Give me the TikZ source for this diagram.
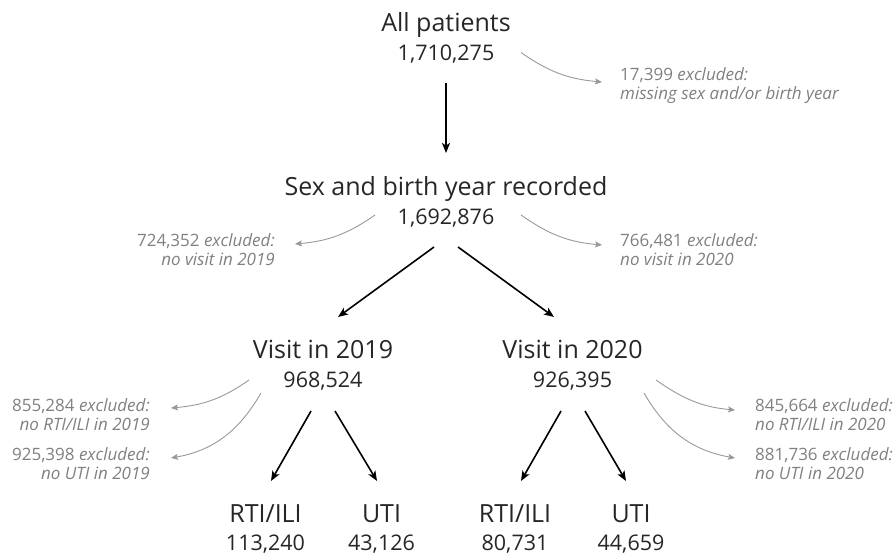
\documentclass[tikz,border=0pt]{standalone}
\usepackage{fontspec}
\setmainfont{Open Sans}
\usetikzlibrary{calc}
\usetikzlibrary{arrows.meta}

\tikzset{
  stage/.style={inner sep=0pt, text height=18pt, text depth=0pt, font=\fontsize{25}{30}\selectfont, text=black!85},
  tally/.style={inner sep=0pt, text height=15.4pt, text depth=0pt, font=\fontsize{21.5}{26}\selectfont, text=black!85},
  excl/.style={inner sep=0pt, font=\fontsize{17}{19}\selectfont, text=black!50},
  flow/.style={draw=black, line width=1.6pt, -{Stealth[length=10pt,width=8pt,inset=2.5pt]}},
  drop/.style={draw=black!40, line width=0.9pt, -{Stealth[length=7pt,width=6pt,inset=1.5pt]}},
}

\begin{document}
\begin{tikzpicture}[x=1pt,y=1pt]
\useasboundingbox (0,0) rectangle (896,-554);

% main stages
\node[stage](all) at (446,-22.5) {All patients};
\node[tally](allN) at (446,-52.5) {1,710,275};

\node[stage](sex) at (446,-186.5) {Sex and birth year recorded};
\node[tally](sexN) at (446,-216.5) {1,692,876};

\node[stage](v19) at (323,-349) {Visit in 2019};
\node[tally](v19N) at (323,-380) {968,524};
\node[stage](v20) at (572.5,-349) {Visit in 2020};
\node[tally](v20N) at (572.5,-380) {926,395};

% outcomes
\node[stage](rti19) at (265.5,-513) {RTI/ILI};
\node[tally](rti19N) at (265.5,-542.5) {113,240};
\node[stage](uti19) at (381.5,-513) {UTI};
\node[tally](uti19N) at (381.5,-542.5) {43,126};
\node[stage](rti20) at (515,-513) {RTI/ILI};
\node[tally](rti20N) at (515,-542.5) {80,731};
\node[stage](uti20) at (631,-513) {UTI};
\node[tally](uti20N) at (631,-542.5) {44,659};

% exclusions
\node[excl, anchor=west, align=left](exAll) at (620,-86) {17,399 \textit{excluded:}\\\textit{missing sex and/or birth year}};
\node[excl, anchor=east, align=right](ex19) at (275,-250) {724,352 \textit{excluded:}\\\textit{no visit in 2019}};
\node[excl, anchor=west, align=left](ex20) at (620,-250) {766,481 \textit{excluded:}\\\textit{no visit in 2020}};
\node[excl, anchor=east, align=right](exR19) at (150,-415) {855,284 \textit{excluded:}\\\textit{no RTI/ILI in 2019}};
\node[excl, anchor=east, align=right](exU19) at (150,-464) {925,398 \textit{excluded:}\\\textit{no UTI in 2019}};
\node[excl, anchor=west, align=left](exR20) at (755,-415) {845,664 \textit{excluded:}\\\textit{no RTI/ILI in 2020}};
\node[excl, anchor=west, align=left](exU20) at (755,-464) {881,736 \textit{excluded:}\\\textit{no UTI in 2020}};

% black arrows
\draw[flow] ($(allN)+(0,-30.5)$) -- ($(sex)+(0,33.5)$);
\draw[flow] ($(sexN)+(-12,-30.5)$) -- ($(v19)+(15,32)$);
\draw[flow] ($(sexN)+(12,-30.5)$) -- ($(v20)+(-18.5,32)$);
\draw[flow] ($(v19N)+(-12,-31)$) -- ($(rti19)+(5.5,32)$);
\draw[flow] ($(v19N)+(12,-31)$) -- ($(uti19)+(-4.5,32)$);
\draw[flow] ($(v20N)+(-11.5,-31)$) -- ($(rti20)+(6,32)$);
\draw[flow] ($(v20N)+(12.5,-31)$) -- ($(uti20)+(-5,32)$);

% grey arrows
\draw[drop] ($(allN)+(75,0)$) to[out=-35,in=175] ($(exAll.west)+(-18,4)$);
\draw[drop] ($(sexN)+(-71,1.5)$) to[out=-145,in=5] ($(ex19.east)+(20,6)$);
\draw[drop] ($(sexN)+(75,1.5)$) to[out=-35,in=175] ($(ex20.west)+(-18,5)$);
\draw[drop] ($(v19N)+(-74,0)$) to[out=-145,in=5] ($(exR19.east)+(21,7)$);
\draw[drop] ($(v19N)+(-62,-13)$) to[out=-120,in=10] ($(exU19.east)+(21,6)$);
\draw[drop] ($(v20N)+(83.5,0)$) to[out=-35,in=175] ($(exR20.west)+(-20,5)$);
\draw[drop] ($(v20N)+(71.5,-13)$) to[out=-60,in=170] ($(exU20.west)+(-20,6)$);

\end{tikzpicture}
\end{document}
